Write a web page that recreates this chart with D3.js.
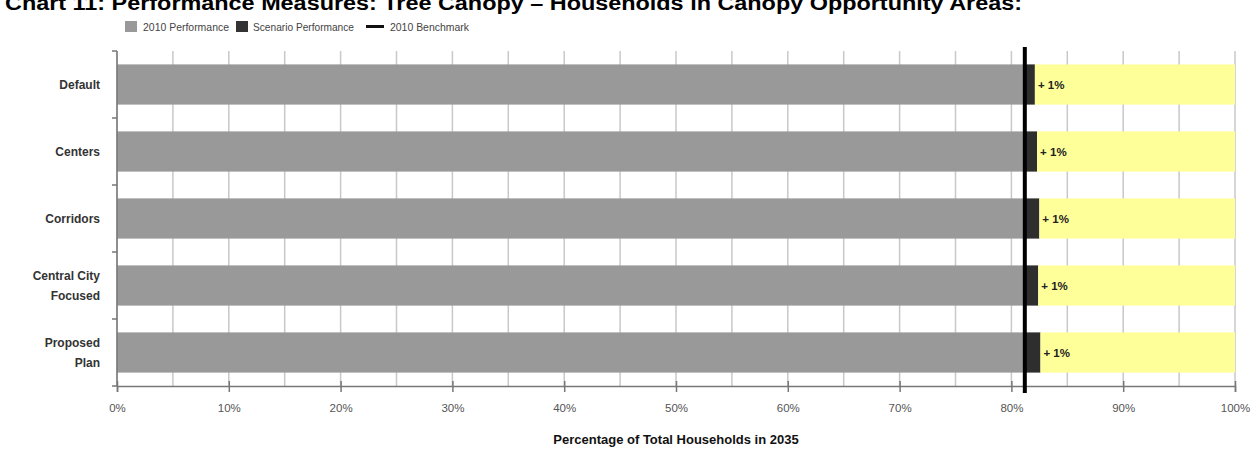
<!DOCTYPE html>
<html><head><meta charset="utf-8">
<script src="https://cdn.jsdelivr.net/npm/d3@7"></script>
<style>body{margin:0;background:#fff}svg{display:block}</style>
</head><body>
<svg id="c" width="1256" height="452"></svg>
<script>
const categories = [["Default"],["Centers"],["Corridors"],["Central City","Focused"],["Proposed","Plan"]];
const perf2010 = [81.1, 81.1, 81.1, 81.1, 81.1];
const scenario = [82.1, 82.3, 82.5, 82.4, 82.6];
const changeLabels = ["+ 1%","+ 1%","+ 1%","+ 1%","+ 1%"];
const benchmark = 81.2;
const xTicks = [0,10,20,30,40,50,60,70,80,90,100];
const gridTicks = d3.range(0,101,5);
const title = "Chart 11: Performance Measures: Tree Canopy \u2013 Households in Canopy Opportunity Areas:";
const xTitle = "Percentage of Total Households in 2035";
const legendItems = ["2010 Performance","Scenario Performance","2010 Benchmark"];

const svg = d3.select("#c");
const L=117,R=1235,T=51,B=386;
const narrow = "'Liberation Sans',Arial,sans-serif";
const x = d3.scaleLinear().domain([0,100]).range([L,R]);
const y = d3.scaleBand().domain(d3.range(categories.length)).range([T,B]).paddingInner(0.4).paddingOuter(0.2);

// title
svg.append("text").attr("x",5).attr("y",10).attr("font-family","'Liberation Sans',Arial,sans-serif")
  .attr("font-weight","bold").attr("font-size",20).attr("fill","#000")
  .attr("textLength",1017).attr("lengthAdjust","spacingAndGlyphs").text(title);

// legend
const lg = svg.append("g").attr("font-family",narrow).attr("font-size",11).attr("fill","#444");
lg.append("rect").attr("x",125).attr("y",21).attr("width",12).attr("height",11).attr("fill","#999");
lg.append("text").attr("x",143).attr("y",31).attr("textLength",86).attr("lengthAdjust","spacingAndGlyphs").text(legendItems[0]);
lg.append("rect").attr("x",236).attr("y",21).attr("width",12).attr("height",11).attr("fill","#333");
lg.append("text").attr("x",253).attr("y",31).attr("textLength",101).attr("lengthAdjust","spacingAndGlyphs").text(legendItems[1]);
lg.append("line").attr("x1",366).attr("x2",384).attr("y1",26.5).attr("y2",26.5).attr("stroke","#111").attr("stroke-width",3);
lg.append("text").attr("x",390).attr("y",31).attr("textLength",79).attr("lengthAdjust","spacingAndGlyphs").text(legendItems[2]);

// grid
svg.append("g").selectAll("line").data(gridTicks).join("line")
  .attr("x1",d=>x(d)).attr("x2",d=>x(d)).attr("y1",T).attr("y2",B)
  .attr("stroke","#c8c8c8").attr("stroke-width",1.5);

// bars
const idx = d3.range(categories.length);
svg.append("g").selectAll("rect").data(idx).join("rect")
  .attr("x",x(0)).attr("y",i=>y(i)).attr("width",i=>x(perf2010[i])-x(0)).attr("height",y.bandwidth()).attr("fill","#999");
svg.append("g").selectAll("rect").data(idx).join("rect")
  .attr("x",i=>x(perf2010[i])).attr("y",i=>y(i)).attr("width",i=>x(scenario[i])-x(perf2010[i])).attr("height",y.bandwidth()).attr("fill","#2e2e2e");
svg.append("g").selectAll("rect").data(idx).join("rect")
  .attr("x",i=>x(scenario[i])).attr("y",i=>y(i)).attr("width",i=>x(100)-x(scenario[i])).attr("height",y.bandwidth()).attr("fill","#ffff99");
svg.append("g").selectAll("text").data(idx).join("text")
  .attr("x",i=>x(scenario[i])+3).attr("y",i=>y(i)+y.bandwidth()/2+4)
  .attr("font-family",narrow).attr("font-weight","bold").attr("font-size",11.5).attr("fill","#222")
  .text(i=>changeLabels[i]);

// x axis
const xa = svg.append("g").attr("transform",`translate(0,${B})`)
  .call(d3.axisBottom(x).tickValues(xTicks).tickFormat(d=>d+"%").tickSize(6).tickPadding(12));
xa.select(".domain").attr("stroke","#777").attr("stroke-width",1.5);
xa.selectAll(".tick line").attr("stroke","#777").attr("stroke-width",1.5).attr("y1",-5);
xa.selectAll(".tick text").attr("font-family",narrow).attr("font-size",11.5).attr("fill","#555");

// y axis
svg.append("line").attr("x1",L).attr("x2",L).attr("y1",T).attr("y2",B).attr("stroke","#777").attr("stroke-width",1.5);
svg.append("g").selectAll("line").data(d3.range(categories.length+1)).join("line")
  .attr("x1",L-5).attr("x2",L).attr("y1",i=>T+i*(B-T)/categories.length).attr("y2",i=>T+i*(B-T)/categories.length)
  .attr("stroke","#777").attr("stroke-width",1.5);
const yl = svg.append("g").attr("font-family","'Liberation Sans',Arial,sans-serif").attr("font-weight","bold")
  .attr("font-size",12).attr("fill","#333").attr("text-anchor","end");
idx.forEach(i=>{
  const lines = categories[i];
  const cy = y(i)+y.bandwidth()/2;
  const lh = 20;
  lines.forEach((s,j)=>{
    yl.append("text").attr("x",100).attr("y",cy + (j-(lines.length-1)/2)*lh + 4.5).text(s);
  });
});

// benchmark
svg.append("line").attr("x1",x(benchmark)).attr("x2",x(benchmark)).attr("y1",T-4).attr("y2",B+7)
  .attr("stroke","#000").attr("stroke-width",4);

// x title
svg.append("text").attr("x",676).attr("y",444).attr("text-anchor","middle")
  .attr("font-family","'Liberation Sans',Arial,sans-serif").attr("font-weight","bold").attr("font-size",13).attr("fill","#111")
  .text(xTitle);
</script>
</body></html>
